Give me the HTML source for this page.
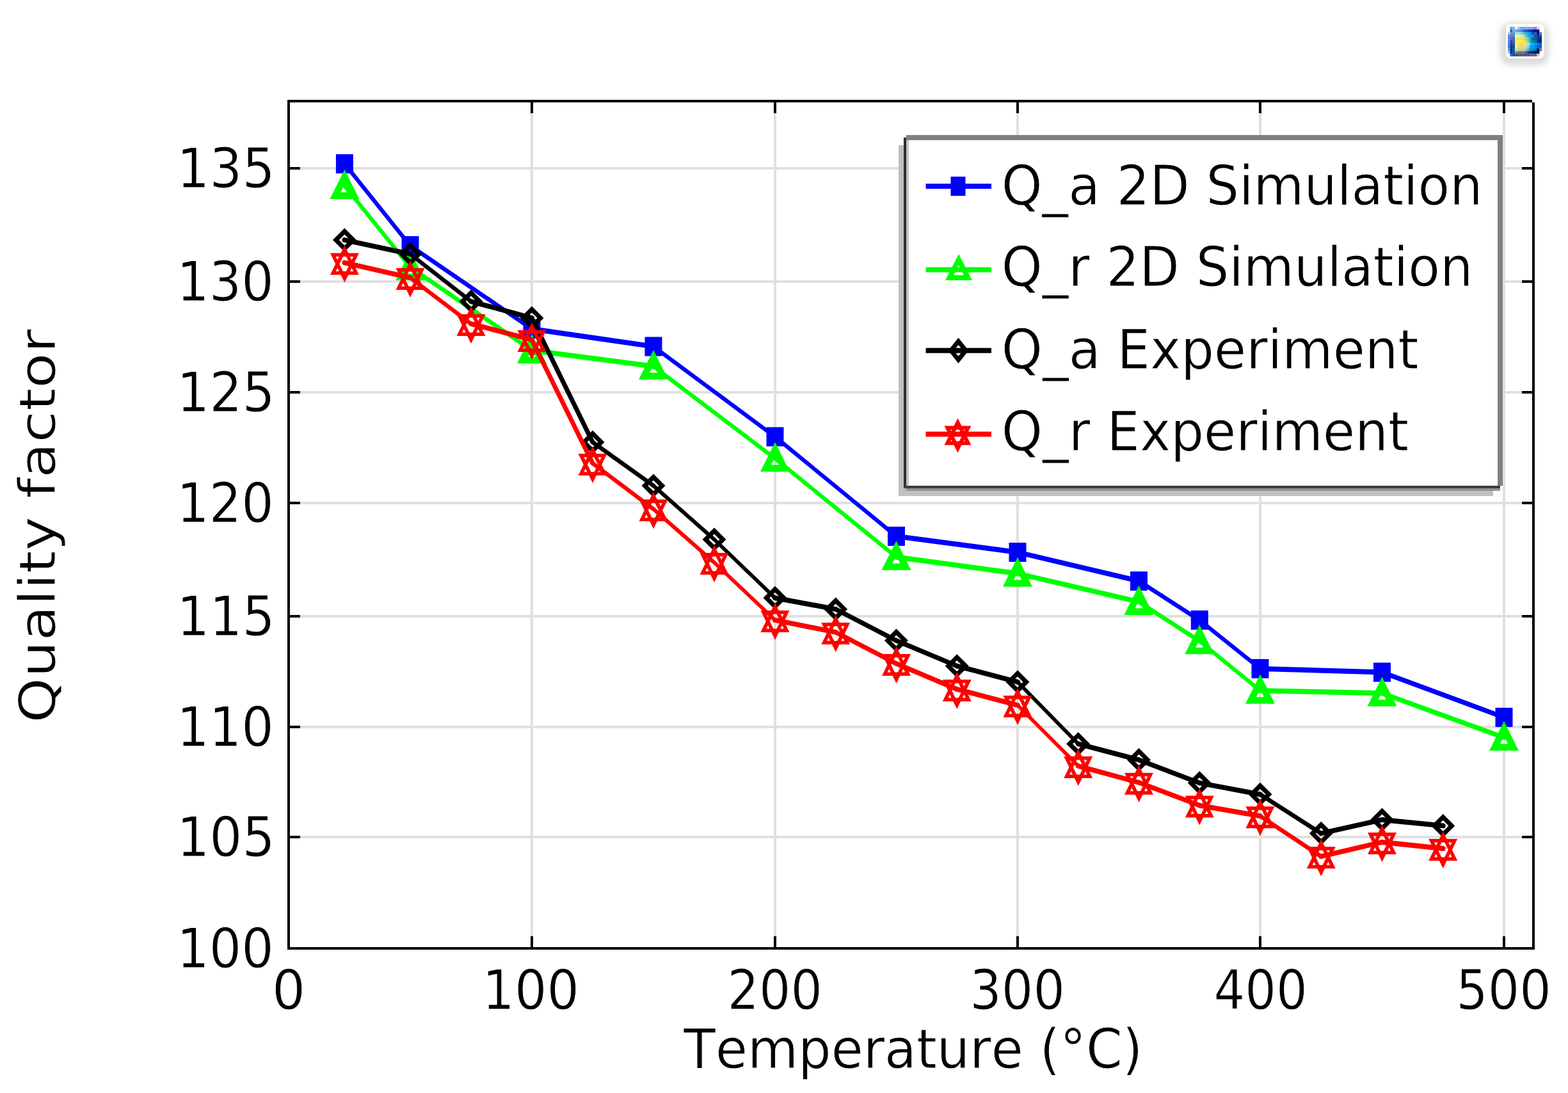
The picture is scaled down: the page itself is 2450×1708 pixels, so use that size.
<!DOCTYPE html>
<html><head><meta charset="utf-8"><title>Quality factor vs Temperature</title>
<style>html,body{margin:0;padding:0;background:#fff;}svg{display:block;}text{font-kerning:none;}</style></head>
<body>
<svg width="2450" height="1708" viewBox="0 0 2450 1708">
<rect x="0" y="0" width="2450" height="1708" fill="#ffffff"/>
<path d="M831,160V1480 M1211,160V1480 M1590,160V1480 M1969,160V1480 M2350,160V1480 M453,263H2394 M453,440H2394 M453,613H2394 M453,786H2394 M453,963H2394 M453,1136H2394 M453,1308H2394" stroke="#e0e0e0" stroke-width="4" fill="none"/>
<path d="M451,1480V1463 M451,160V177 M831,1480V1463 M831,160V177 M1211,1480V1463 M1211,160V177 M1590,1480V1463 M1590,160V177 M1969,1480V1463 M1969,160V177 M2350,1480V1463 M2350,160V177 M453,263H469 M2394,263H2378 M453,440H469 M2394,440H2378 M453,613H469 M2394,613H2378 M453,786H469 M2394,786H2378 M453,963H469 M2394,963H2378 M453,1136H469 M2394,1136H2378 M453,1308H469 M2394,1308H2378 M453,1482H469 M2394,1482H2378" stroke="#000" stroke-width="4" fill="none"/>
<path d="M449,158H2394 M2396,160V1484 M2398,1482H451 M451,1484V156" stroke="#000" stroke-width="4" fill="none"/>
<g font-family="DejaVu Sans, Liberation Sans, sans-serif" fill="#000" stroke="#fff" stroke-width="0.9">
<text transform="translate(276.16,293.10) scale(0.9454,1)" font-size="85.0">135</text>
<text transform="translate(276.27,470.10) scale(0.9340,1)" font-size="85.0">130</text>
<text transform="translate(276.16,643.10) scale(0.9454,1)" font-size="85.0">125</text>
<text transform="translate(276.27,816.10) scale(0.9340,1)" font-size="85.0">120</text>
<text transform="translate(276.16,993.10) scale(0.9454,1)" font-size="85.0">115</text>
<text transform="translate(276.27,1166.10) scale(0.9340,1)" font-size="85.0">110</text>
<text transform="translate(276.16,1338.10) scale(0.9454,1)" font-size="85.0">105</text>
<text transform="translate(276.27,1512.10) scale(0.9340,1)" font-size="85.0">100</text>
<text transform="translate(424.88,1576.50) scale(0.9664,1)" font-size="85.0">0</text>
<text transform="translate(753.52,1576.50) scale(0.9340,1)" font-size="85.0">100</text>
<text transform="translate(1136.58,1576.50) scale(0.9144,1)" font-size="85.0">200</text>
<text transform="translate(1515.33,1576.50) scale(0.9160,1)" font-size="85.0">300</text>
<text transform="translate(1896.49,1576.50) scale(0.9022,1)" font-size="85.0">400</text>
<text transform="translate(2275.25,1576.50) scale(0.9165,1)" font-size="85.0">500</text>
<text transform="translate(1068.24,1668.90) scale(0.9564,1)" font-size="85.0">Temperature (°C)</text>
<text transform="translate(86.4,1129.65) rotate(-90) scale(1.1566,1)" font-size="78.0">Quality factor</text>
</g>
<g stroke="#0000ff" fill="none" stroke-linecap="round"><path d="M538.4,256.0L641.0,384.0" stroke-width="6.24"/><path d="M641.0,384.0L831.0,514.0" stroke-width="6.60"/><path d="M831.0,514.0L1021.0,541.5" stroke-width="7.92"/><path d="M1021.0,541.5L1211.0,682.5" stroke-width="6.42"/><path d="M1211.0,682.5L1400.5,838.0" stroke-width="6.18"/><path d="M1400.5,838.0L1590.0,863.0" stroke-width="7.93"/><path d="M1590.0,863.0L1779.5,908.0" stroke-width="7.78"/><path d="M1779.5,908.0L1874.2,969.0" stroke-width="6.73"/><path d="M1874.2,969.0L1969.0,1044.9" stroke-width="6.24"/><path d="M1969.0,1044.9L2159.5,1050.5" stroke-width="8.00"/><path d="M2159.5,1050.5L2350.0,1121.0" stroke-width="7.50"/></g>
<g fill="#0000ff" fill-rule="evenodd"><path d="M524.9,241.0h27v30h-27Z"/><path d="M627.5,369.0h27v30h-27Z"/><path d="M817.5,499.0h27v30h-27Z"/><path d="M1007.5,526.5h27v30h-27Z"/><path d="M1197.5,667.5h27v30h-27Z"/><path d="M1387.0,823.0h27v30h-27Z"/><path d="M1576.5,848.0h27v30h-27Z"/><path d="M1766.0,893.0h27v30h-27Z"/><path d="M1860.8,954.0h27v30h-27Z"/><path d="M1955.5,1029.9h27v30h-27Z"/><path d="M2146.0,1035.5h27v30h-27Z"/><path d="M2336.5,1106.0h27v30h-27Z"/></g>
<g stroke="#00ff00" fill="none" stroke-linecap="round"><path d="M538.4,290.5L641.0,417.5" stroke-width="6.22"/><path d="M641.0,417.5L831.0,547.5" stroke-width="6.60"/><path d="M831.0,547.5L1021.0,572.5" stroke-width="7.93"/><path d="M1021.0,572.5L1211.0,716.5" stroke-width="6.38"/><path d="M1211.0,716.5L1400.5,870.5" stroke-width="6.21"/><path d="M1400.5,870.5L1590.0,896.2" stroke-width="7.93"/><path d="M1590.0,896.2L1779.5,940.5" stroke-width="7.79"/><path d="M1779.5,940.5L1874.2,1001.8" stroke-width="6.72"/><path d="M1874.2,1001.8L1969.0,1079.2" stroke-width="6.20"/><path d="M1969.0,1079.2L2159.5,1083.2" stroke-width="8.00"/><path d="M2159.5,1083.2L2350.0,1152.5" stroke-width="7.52"/></g>
<g fill="#00ff00" fill-rule="evenodd"><path d="M538.4,265.0 L561.4,311.0 L515.4,311.0ZM538.4,288.5 L544.4,300.5 L532.4,300.5Z"/><path d="M641.0,392.0 L664.0,438.0 L618.0,438.0ZM641.0,415.5 L647.0,427.5 L635.0,427.5Z"/><path d="M831.0,522.0 L854.0,568.0 L808.0,568.0ZM831.0,545.5 L837.0,557.5 L825.0,557.5Z"/><path d="M1021.0,547.0 L1044.0,593.0 L998.0,593.0ZM1021.0,570.5 L1027.0,582.5 L1015.0,582.5Z"/><path d="M1211.0,691.0 L1234.0,737.0 L1188.0,737.0ZM1211.0,714.5 L1217.0,726.5 L1205.0,726.5Z"/><path d="M1400.5,845.0 L1423.5,891.0 L1377.5,891.0ZM1400.5,868.5 L1406.5,880.5 L1394.5,880.5Z"/><path d="M1590.0,870.7 L1613.0,916.7 L1567.0,916.7ZM1590.0,894.2 L1596.0,906.2 L1584.0,906.2Z"/><path d="M1779.5,915.0 L1802.5,961.0 L1756.5,961.0ZM1779.5,938.5 L1785.5,950.5 L1773.5,950.5Z"/><path d="M1874.2,976.3 L1897.2,1022.3 L1851.2,1022.3ZM1874.2,999.8 L1880.3,1011.8 L1868.2,1011.8Z"/><path d="M1969.0,1053.7 L1992.0,1099.7 L1946.0,1099.7ZM1969.0,1077.2 L1975.0,1089.2 L1963.0,1089.2Z"/><path d="M2159.5,1057.7 L2182.5,1103.7 L2136.5,1103.7ZM2159.5,1081.2 L2165.5,1093.2 L2153.5,1093.2Z"/><path d="M2350.0,1127.0 L2373.0,1173.0 L2327.0,1173.0ZM2350.0,1150.5 L2356.0,1162.5 L2344.0,1162.5Z"/></g>
<g stroke="#000000" fill="none" stroke-linecap="round"><path d="M538.4,375.0L641.0,397.0" stroke-width="7.82"/><path d="M641.0,397.0L736.0,471.0" stroke-width="6.31"/><path d="M736.0,471.0L831.0,497.0" stroke-width="7.72"/><path d="M831.0,497.0L926.0,691.0" stroke-width="7.18"/><path d="M926.0,691.0L1021.0,759.0" stroke-width="6.51"/><path d="M1021.0,759.0L1116.0,843.0" stroke-width="5.99"/><path d="M1116.0,843.0L1211.0,934.3" stroke-width="5.77"/><path d="M1211.0,934.3L1305.8,952.0" stroke-width="7.86"/><path d="M1305.8,952.0L1400.5,1001.0" stroke-width="7.11"/><path d="M1400.5,1001.0L1495.2,1040.7" stroke-width="7.38"/><path d="M1495.2,1040.7L1590.0,1065.7" stroke-width="7.74"/><path d="M1590.0,1065.7L1684.8,1162.4" stroke-width="5.71"/><path d="M1684.8,1162.4L1779.5,1187.4" stroke-width="7.74"/><path d="M1779.5,1187.4L1874.2,1223.5" stroke-width="7.48"/><path d="M1874.2,1223.5L1969.0,1241.3" stroke-width="7.86"/><path d="M1969.0,1241.3L2064.2,1302.3" stroke-width="6.74"/><path d="M2064.2,1302.3L2159.5,1281.0" stroke-width="7.81"/><path d="M2159.5,1281.0L2254.8,1290.4" stroke-width="7.96"/></g>
<g fill="#000000" fill-rule="evenodd"><path d="M538.4,356.5 L556.9,375.0 L538.4,393.5 L519.9,375.0ZM538.4,366.4 L547.0,375.0 L538.4,383.6 L529.8,375.0Z"/><path d="M641.0,378.5 L659.5,397.0 L641.0,415.5 L622.5,397.0ZM641.0,388.4 L649.6,397.0 L641.0,405.6 L632.4,397.0Z"/><path d="M736.0,452.5 L754.5,471.0 L736.0,489.5 L717.5,471.0ZM736.0,462.4 L744.6,471.0 L736.0,479.6 L727.4,471.0Z"/><path d="M831.0,478.5 L849.5,497.0 L831.0,515.5 L812.5,497.0ZM831.0,488.4 L839.6,497.0 L831.0,505.6 L822.4,497.0Z"/><path d="M926.0,672.5 L944.5,691.0 L926.0,709.5 L907.5,691.0ZM926.0,682.4 L934.6,691.0 L926.0,699.6 L917.4,691.0Z"/><path d="M1021.0,740.5 L1039.5,759.0 L1021.0,777.5 L1002.5,759.0ZM1021.0,750.4 L1029.6,759.0 L1021.0,767.6 L1012.4,759.0Z"/><path d="M1116.0,824.5 L1134.5,843.0 L1116.0,861.5 L1097.5,843.0ZM1116.0,834.4 L1124.6,843.0 L1116.0,851.6 L1107.4,843.0Z"/><path d="M1211.0,915.8 L1229.5,934.3 L1211.0,952.8 L1192.5,934.3ZM1211.0,925.7 L1219.6,934.3 L1211.0,942.9 L1202.4,934.3Z"/><path d="M1305.8,933.5 L1324.2,952.0 L1305.8,970.5 L1287.2,952.0ZM1305.8,943.4 L1314.4,952.0 L1305.8,960.6 L1297.1,952.0Z"/><path d="M1400.5,982.5 L1419.0,1001.0 L1400.5,1019.5 L1382.0,1001.0ZM1400.5,992.4 L1409.1,1001.0 L1400.5,1009.6 L1391.9,1001.0Z"/><path d="M1495.2,1022.2 L1513.8,1040.7 L1495.2,1059.2 L1476.8,1040.7ZM1495.2,1032.1 L1503.9,1040.7 L1495.2,1049.3 L1486.6,1040.7Z"/><path d="M1590.0,1047.2 L1608.5,1065.7 L1590.0,1084.2 L1571.5,1065.7ZM1590.0,1057.1 L1598.6,1065.7 L1590.0,1074.3 L1581.4,1065.7Z"/><path d="M1684.8,1143.9 L1703.2,1162.4 L1684.8,1180.9 L1666.2,1162.4ZM1684.8,1153.8 L1693.4,1162.4 L1684.8,1171.0 L1676.1,1162.4Z"/><path d="M1779.5,1168.9 L1798.0,1187.4 L1779.5,1205.9 L1761.0,1187.4ZM1779.5,1178.8 L1788.1,1187.4 L1779.5,1196.0 L1770.9,1187.4Z"/><path d="M1874.2,1205.0 L1892.8,1223.5 L1874.2,1242.0 L1855.8,1223.5ZM1874.2,1214.9 L1882.9,1223.5 L1874.2,1232.1 L1865.6,1223.5Z"/><path d="M1969.0,1222.8 L1987.5,1241.3 L1969.0,1259.8 L1950.5,1241.3ZM1969.0,1232.7 L1977.6,1241.3 L1969.0,1249.9 L1960.4,1241.3Z"/><path d="M2064.2,1283.8 L2082.8,1302.3 L2064.2,1320.8 L2045.8,1302.3ZM2064.2,1293.7 L2072.9,1302.3 L2064.2,1310.9 L2055.6,1302.3Z"/><path d="M2159.5,1262.5 L2178.0,1281.0 L2159.5,1299.5 L2141.0,1281.0ZM2159.5,1272.4 L2168.1,1281.0 L2159.5,1289.6 L2150.9,1281.0Z"/><path d="M2254.8,1271.9 L2273.2,1290.4 L2254.8,1308.9 L2236.2,1290.4ZM2254.8,1281.8 L2263.4,1290.4 L2254.8,1299.0 L2246.1,1290.4Z"/></g>
<g stroke="#ff0000" fill="none" stroke-linecap="round"><path d="M538.4,410.5L641.0,434.0" stroke-width="7.80"/><path d="M641.0,434.0L736.0,506.0" stroke-width="6.38"/><path d="M736.0,506.0L831.0,531.0" stroke-width="7.74"/><path d="M831.0,531.0L926.0,724.0" stroke-width="7.18"/><path d="M926.0,724.0L1021.0,795.4" stroke-width="6.40"/><path d="M1021.0,795.4L1116.0,879.0" stroke-width="6.01"/><path d="M1116.0,879.0L1211.0,969.0" stroke-width="5.81"/><path d="M1211.0,969.0L1305.8,988.0" stroke-width="7.84"/><path d="M1305.8,988.0L1400.5,1037.0" stroke-width="7.11"/><path d="M1400.5,1037.0L1495.2,1077.0" stroke-width="7.37"/><path d="M1495.2,1077.0L1590.0,1102.0" stroke-width="7.74"/><path d="M1590.0,1102.0L1684.8,1197.0" stroke-width="5.66"/><path d="M1684.8,1197.0L1779.5,1222.8" stroke-width="7.72"/><path d="M1779.5,1222.8L1874.2,1258.6" stroke-width="7.48"/><path d="M1874.2,1258.6L1969.0,1275.2" stroke-width="7.88"/><path d="M1969.0,1275.2L2064.2,1338.3" stroke-width="6.67"/><path d="M2064.2,1338.3L2159.5,1316.0" stroke-width="7.79"/><path d="M2159.5,1316.0L2254.8,1326.0" stroke-width="7.96"/></g>
<g fill="#ff0000" fill-rule="evenodd"><path d="M538.4,383.5 L560.9,429.5 L515.9,429.5ZM538.4,396.0 L552.1,424.0 L524.7,424.0Z"/><path d="M538.4,441.5 L515.9,395.5 L560.9,395.5ZM538.4,429.0 L524.7,401.0 L552.1,401.0Z"/><path d="M641.0,407.0 L663.5,453.0 L618.5,453.0ZM641.0,419.5 L654.7,447.5 L627.3,447.5Z"/><path d="M641.0,465.0 L618.5,419.0 L663.5,419.0ZM641.0,452.5 L627.3,424.5 L654.7,424.5Z"/><path d="M736.0,479.0 L758.5,525.0 L713.5,525.0ZM736.0,491.5 L749.7,519.5 L722.3,519.5Z"/><path d="M736.0,537.0 L713.5,491.0 L758.5,491.0ZM736.0,524.5 L722.3,496.5 L749.7,496.5Z"/><path d="M831.0,504.0 L853.5,550.0 L808.5,550.0ZM831.0,516.5 L844.7,544.5 L817.3,544.5Z"/><path d="M831.0,562.0 L808.5,516.0 L853.5,516.0ZM831.0,549.5 L817.3,521.5 L844.7,521.5Z"/><path d="M926.0,697.0 L948.5,743.0 L903.5,743.0ZM926.0,709.5 L939.7,737.5 L912.3,737.5Z"/><path d="M926.0,755.0 L903.5,709.0 L948.5,709.0ZM926.0,742.5 L912.3,714.5 L939.7,714.5Z"/><path d="M1021.0,768.4 L1043.5,814.4 L998.5,814.4ZM1021.0,780.9 L1034.7,808.9 L1007.3,808.9Z"/><path d="M1021.0,826.4 L998.5,780.4 L1043.5,780.4ZM1021.0,813.9 L1007.3,785.9 L1034.7,785.9Z"/><path d="M1116.0,852.0 L1138.5,898.0 L1093.5,898.0ZM1116.0,864.5 L1129.7,892.5 L1102.3,892.5Z"/><path d="M1116.0,910.0 L1093.5,864.0 L1138.5,864.0ZM1116.0,897.5 L1102.3,869.5 L1129.7,869.5Z"/><path d="M1211.0,942.0 L1233.5,988.0 L1188.5,988.0ZM1211.0,954.5 L1224.7,982.5 L1197.3,982.5Z"/><path d="M1211.0,1000.0 L1188.5,954.0 L1233.5,954.0ZM1211.0,987.5 L1197.3,959.5 L1224.7,959.5Z"/><path d="M1305.8,961.0 L1328.2,1007.0 L1283.2,1007.0ZM1305.8,973.5 L1319.4,1001.5 L1292.1,1001.5Z"/><path d="M1305.8,1019.0 L1283.2,973.0 L1328.2,973.0ZM1305.8,1006.5 L1292.1,978.5 L1319.4,978.5Z"/><path d="M1400.5,1010.0 L1423.0,1056.0 L1378.0,1056.0ZM1400.5,1022.5 L1414.2,1050.5 L1386.8,1050.5Z"/><path d="M1400.5,1068.0 L1378.0,1022.0 L1423.0,1022.0ZM1400.5,1055.5 L1386.8,1027.5 L1414.2,1027.5Z"/><path d="M1495.2,1050.0 L1517.8,1096.0 L1472.8,1096.0ZM1495.2,1062.5 L1508.9,1090.5 L1481.6,1090.5Z"/><path d="M1495.2,1108.0 L1472.8,1062.0 L1517.8,1062.0ZM1495.2,1095.5 L1481.6,1067.5 L1508.9,1067.5Z"/><path d="M1590.0,1075.0 L1612.5,1121.0 L1567.5,1121.0ZM1590.0,1087.5 L1603.7,1115.5 L1576.3,1115.5Z"/><path d="M1590.0,1133.0 L1567.5,1087.0 L1612.5,1087.0ZM1590.0,1120.5 L1576.3,1092.5 L1603.7,1092.5Z"/><path d="M1684.8,1170.0 L1707.2,1216.0 L1662.2,1216.0ZM1684.8,1182.5 L1698.4,1210.5 L1671.1,1210.5Z"/><path d="M1684.8,1228.0 L1662.2,1182.0 L1707.2,1182.0ZM1684.8,1215.5 L1671.1,1187.5 L1698.4,1187.5Z"/><path d="M1779.5,1195.8 L1802.0,1241.8 L1757.0,1241.8ZM1779.5,1208.3 L1793.2,1236.3 L1765.8,1236.3Z"/><path d="M1779.5,1253.8 L1757.0,1207.8 L1802.0,1207.8ZM1779.5,1241.3 L1765.8,1213.3 L1793.2,1213.3Z"/><path d="M1874.2,1231.6 L1896.8,1277.6 L1851.8,1277.6ZM1874.2,1244.1 L1887.9,1272.1 L1860.6,1272.1Z"/><path d="M1874.2,1289.6 L1851.8,1243.6 L1896.8,1243.6ZM1874.2,1277.1 L1860.6,1249.1 L1887.9,1249.1Z"/><path d="M1969.0,1248.2 L1991.5,1294.2 L1946.5,1294.2ZM1969.0,1260.7 L1982.7,1288.7 L1955.3,1288.7Z"/><path d="M1969.0,1306.2 L1946.5,1260.2 L1991.5,1260.2ZM1969.0,1293.7 L1955.3,1265.7 L1982.7,1265.7Z"/><path d="M2064.2,1311.3 L2086.8,1357.3 L2041.8,1357.3ZM2064.2,1323.8 L2077.9,1351.8 L2050.6,1351.8Z"/><path d="M2064.2,1369.3 L2041.8,1323.3 L2086.8,1323.3ZM2064.2,1356.8 L2050.6,1328.8 L2077.9,1328.8Z"/><path d="M2159.5,1289.0 L2182.0,1335.0 L2137.0,1335.0ZM2159.5,1301.5 L2173.2,1329.5 L2145.8,1329.5Z"/><path d="M2159.5,1347.0 L2137.0,1301.0 L2182.0,1301.0ZM2159.5,1334.5 L2145.8,1306.5 L2173.2,1306.5Z"/><path d="M2254.8,1299.0 L2277.2,1345.0 L2232.2,1345.0ZM2254.8,1311.5 L2268.4,1339.5 L2241.1,1339.5Z"/><path d="M2254.8,1357.0 L2232.2,1311.0 L2277.2,1311.0ZM2254.8,1344.5 L2241.1,1316.5 L2268.4,1316.5Z"/></g>
<rect x="1404" y="227" width="929" height="548" fill="#c0c0c0"/>
<rect x="1416" y="763" width="928" height="4" fill="#909090"/>
<rect x="1412" y="211" width="936" height="552" fill="#ffffff"/>
<rect x="1416" y="211" width="932" height="8" fill="#808080"/>
<rect x="2340" y="211" width="8" height="548" fill="#808080"/>
<rect x="1412" y="215" width="4" height="548" fill="#2e2e2e"/>
<rect x="1416" y="219" width="4" height="540" fill="#c4c4c4"/>
<rect x="1412" y="759" width="932" height="4" fill="#3c3c3c"/>
<path d="M1446.6,291H1549" stroke="#0000ff" stroke-width="8"/>
<path d="M1485.5,276.0h23v30h-23Z" fill="#0000ff"/>
<g font-family="DejaVu Sans, Liberation Sans, sans-serif" fill="#000" stroke="#fff" stroke-width="0.9"><text transform="translate(1564.76,320.00) scale(0.9543,1)" font-size="85.0">Q_a 2D Simulation</text></g>
<path d="M1446.6,421.5H1549" stroke="#00ff00" stroke-width="8"/>
<path d="M1498.0,397.0 L1519.0,438.0 L1477.0,438.0ZM1498.0,414.5 L1505.9,430.0 L1490.1,430.0Z" fill="#00ff00" fill-rule="evenodd"/>
<g font-family="DejaVu Sans, Liberation Sans, sans-serif" fill="#000" stroke="#fff" stroke-width="0.9"><text transform="translate(1564.75,446.50) scale(0.9560,1)" font-size="85.0">Q_r 2D Simulation</text></g>
<path d="M1446.6,547.8H1549" stroke="#000000" stroke-width="8"/>
<path d="M1497.5,527.8 L1513.5,547.8 L1497.5,567.8 L1481.5,547.8ZM1497.5,539.0 L1504.5,547.8 L1497.5,556.6 L1490.5,547.8Z" fill="#000000" fill-rule="evenodd"/>
<g font-family="DejaVu Sans, Liberation Sans, sans-serif" fill="#000" stroke="#fff" stroke-width="0.9"><text transform="translate(1564.73,576.40) scale(0.9592,1)" font-size="85.0">Q_a Experiment</text></g>
<path d="M1446.6,678.6H1549" stroke="#ff0000" stroke-width="8"/>
<g fill="#ff0000" fill-rule="evenodd"><path d="M1496.5,653.6 L1517.5,695.6 L1475.5,695.6ZM1496.5,667.0 L1507.8,689.6 L1485.2,689.6Z"/><path d="M1496.5,707.6 L1475.5,665.6 L1517.5,665.6ZM1496.5,694.2 L1485.2,671.6 L1507.8,671.6Z"/></g>
<g font-family="DejaVu Sans, Liberation Sans, sans-serif" fill="#000" stroke="#fff" stroke-width="0.9"><text transform="translate(1564.73,703.50) scale(0.9604,1)" font-size="85.0">Q_r Experiment</text></g>
<defs><filter id="blur" x="-50%" y="-50%" width="200%" height="200%"><feGaussianBlur stdDeviation="5"/></filter></defs>
<rect x="2344" y="36" width="76" height="66" rx="16" fill="#dcdcdc" filter="url(#blur)"/>
<rect x="2353" y="37.5" width="60" height="54" rx="8" fill="#fffcf2"/>
<rect x="2359.4" y="41.9" width="4.0" height="4.5" fill="#6a9ad0"/><rect x="2363.1" y="41.9" width="4.3" height="4.5" fill="#8ab0f8"/><rect x="2367.1" y="41.9" width="4.2" height="4.5" fill="#e8f0ff"/><rect x="2371.0" y="41.9" width="4.2" height="4.5" fill="#a8c8f8"/><rect x="2374.9" y="41.9" width="4.3" height="4.5" fill="#70b0f0"/><rect x="2378.9" y="41.9" width="4.0" height="4.5" fill="#78a8f0"/><rect x="2382.6" y="41.9" width="4.1" height="4.5" fill="#80a8f0"/><rect x="2386.4" y="41.9" width="4.0" height="4.5" fill="#80a8e8"/><rect x="2390.1" y="41.9" width="4.1" height="4.5" fill="#88a0e8"/><rect x="2393.9" y="41.9" width="4.2" height="4.5" fill="#8098f0"/><rect x="2397.8" y="41.9" width="3.8" height="4.5" fill="#7088f0"/><rect x="2401.3" y="41.9" width="4.1" height="4.5" fill="#d0d8f0"/><rect x="2359.4" y="46.1" width="4.0" height="4.2" fill="#1070c0"/><rect x="2363.1" y="46.1" width="4.3" height="4.2" fill="#70b0e0"/><rect x="2367.1" y="46.1" width="4.2" height="4.2" fill="#80a0e0"/><rect x="2371.0" y="46.1" width="4.2" height="4.2" fill="#6098d8"/><rect x="2374.9" y="46.1" width="4.3" height="4.2" fill="#5090e0"/><rect x="2378.9" y="46.1" width="4.0" height="4.2" fill="#4060d0"/><rect x="2382.6" y="46.1" width="4.1" height="4.2" fill="#2050c8"/><rect x="2386.4" y="46.1" width="4.0" height="4.2" fill="#1040c8"/><rect x="2390.1" y="46.1" width="4.1" height="4.2" fill="#1030b0"/><rect x="2393.9" y="46.1" width="4.2" height="4.2" fill="#0820a8"/><rect x="2397.8" y="46.1" width="3.8" height="4.2" fill="#0010a0"/><rect x="2401.3" y="46.1" width="4.1" height="4.2" fill="#000a80"/><rect x="2356.0" y="50.0" width="3.7" height="4.2" fill="#b0d0f0"/><rect x="2359.4" y="50.0" width="4.0" height="4.2" fill="#9080c8"/><rect x="2363.1" y="50.0" width="4.3" height="4.2" fill="#50a0d0"/><rect x="2367.1" y="50.0" width="4.2" height="4.2" fill="#a0e0e0"/><rect x="2371.0" y="50.0" width="4.2" height="4.2" fill="#a0e0d8"/><rect x="2374.9" y="50.0" width="4.3" height="4.2" fill="#90d0e0"/><rect x="2378.9" y="50.0" width="4.0" height="4.2" fill="#60c8d0"/><rect x="2382.6" y="50.0" width="4.1" height="4.2" fill="#20b0e0"/><rect x="2386.4" y="50.0" width="4.0" height="4.2" fill="#4090d8"/><rect x="2390.1" y="50.0" width="4.1" height="4.2" fill="#0080d0"/><rect x="2393.9" y="50.0" width="4.2" height="4.2" fill="#0050c8"/><rect x="2397.8" y="50.0" width="3.8" height="4.2" fill="#3060a0"/><rect x="2401.3" y="50.0" width="4.1" height="4.2" fill="#000880"/><rect x="2405.1" y="50.0" width="4.0" height="4.2" fill="#6080c0"/><rect x="2356.0" y="53.9" width="3.7" height="4.5" fill="#6090e0"/><rect x="2359.4" y="53.9" width="4.0" height="4.5" fill="#8070d0"/><rect x="2363.1" y="53.9" width="4.3" height="4.5" fill="#5088c0"/><rect x="2367.1" y="53.9" width="4.2" height="4.5" fill="#e0ffd0"/><rect x="2371.0" y="53.9" width="4.2" height="4.5" fill="#e0f8b0"/><rect x="2374.9" y="53.9" width="4.3" height="4.5" fill="#d8f0a0"/><rect x="2378.9" y="53.9" width="4.0" height="4.5" fill="#b0e8b0"/><rect x="2382.6" y="53.9" width="4.1" height="4.5" fill="#50d0d0"/><rect x="2386.4" y="53.9" width="4.0" height="4.5" fill="#00b0f8"/><rect x="2390.1" y="53.9" width="4.1" height="4.5" fill="#00a0e8"/><rect x="2393.9" y="53.9" width="4.2" height="4.5" fill="#3080c0"/><rect x="2397.8" y="53.9" width="3.8" height="4.5" fill="#0050c0"/><rect x="2401.3" y="53.9" width="4.1" height="4.5" fill="#003090"/><rect x="2405.1" y="53.9" width="4.0" height="4.5" fill="#205090"/><rect x="2356.0" y="58.1" width="3.7" height="4.9" fill="#5090f0"/><rect x="2359.4" y="58.1" width="4.0" height="4.9" fill="#6060c8"/><rect x="2363.1" y="58.1" width="4.3" height="4.9" fill="#4070a0"/><rect x="2367.1" y="58.1" width="4.2" height="4.9" fill="#e0f090"/><rect x="2371.0" y="58.1" width="4.2" height="4.9" fill="#f8e070"/><rect x="2374.9" y="58.1" width="4.3" height="4.9" fill="#f8e060"/><rect x="2378.9" y="58.1" width="4.0" height="4.9" fill="#e0e070"/><rect x="2382.6" y="58.1" width="4.1" height="4.9" fill="#a0d0a0"/><rect x="2386.4" y="58.1" width="4.0" height="4.9" fill="#60c8a0"/><rect x="2390.1" y="58.1" width="4.1" height="4.9" fill="#00a0c0"/><rect x="2393.9" y="58.1" width="4.2" height="4.9" fill="#0060c0"/><rect x="2397.8" y="58.1" width="3.8" height="4.9" fill="#0060a8"/><rect x="2401.3" y="58.1" width="4.1" height="4.9" fill="#003090"/><rect x="2405.1" y="58.1" width="4.0" height="4.9" fill="#002870"/><rect x="2356.0" y="62.7" width="3.7" height="4.5" fill="#4090f0"/><rect x="2359.4" y="62.7" width="4.0" height="4.5" fill="#4040b0"/><rect x="2363.1" y="62.7" width="4.3" height="4.5" fill="#406898"/><rect x="2367.1" y="62.7" width="4.2" height="4.5" fill="#f0f060"/><rect x="2371.0" y="62.7" width="4.2" height="4.5" fill="#fff050"/><rect x="2374.9" y="62.7" width="4.3" height="4.5" fill="#fff040"/><rect x="2378.9" y="62.7" width="4.0" height="4.5" fill="#f0e840"/><rect x="2382.6" y="62.7" width="4.1" height="4.5" fill="#d0e060"/><rect x="2386.4" y="62.7" width="4.0" height="4.5" fill="#80d070"/><rect x="2390.1" y="62.7" width="4.1" height="4.5" fill="#00b0a0"/><rect x="2393.9" y="62.7" width="4.2" height="4.5" fill="#108090"/><rect x="2397.8" y="62.7" width="3.8" height="4.5" fill="#207080"/><rect x="2401.3" y="62.7" width="4.1" height="4.5" fill="#002890"/><rect x="2405.1" y="62.7" width="4.0" height="4.5" fill="#002070"/><rect x="2356.0" y="66.9" width="3.7" height="4.4" fill="#3090f0"/><rect x="2359.4" y="66.9" width="4.0" height="4.4" fill="#3030a0"/><rect x="2363.1" y="66.9" width="4.3" height="4.4" fill="#305880"/><rect x="2367.1" y="66.9" width="4.2" height="4.4" fill="#f0f880"/><rect x="2371.0" y="66.9" width="4.2" height="4.4" fill="#ffe840"/><rect x="2374.9" y="66.9" width="4.3" height="4.4" fill="#f8e050"/><rect x="2378.9" y="66.9" width="4.0" height="4.4" fill="#f0e080"/><rect x="2382.6" y="66.9" width="4.1" height="4.4" fill="#d8e0c0"/><rect x="2386.4" y="66.9" width="4.0" height="4.4" fill="#a0e0f0"/><rect x="2390.1" y="66.9" width="4.1" height="4.4" fill="#00d0ff"/><rect x="2393.9" y="66.9" width="4.2" height="4.4" fill="#00b0ff"/><rect x="2397.8" y="66.9" width="3.8" height="4.4" fill="#0090f8"/><rect x="2401.3" y="66.9" width="4.1" height="4.4" fill="#0070f0"/><rect x="2405.1" y="66.9" width="4.0" height="4.4" fill="#0060e0"/><rect x="2356.0" y="71.0" width="3.7" height="4.6" fill="#3080e0"/><rect x="2359.4" y="71.0" width="4.0" height="4.6" fill="#2030a0"/><rect x="2363.1" y="71.0" width="4.3" height="4.6" fill="#005090"/><rect x="2367.1" y="71.0" width="4.2" height="4.6" fill="#f0f0b0"/><rect x="2371.0" y="71.0" width="4.2" height="4.6" fill="#f0d870"/><rect x="2374.9" y="71.0" width="4.3" height="4.6" fill="#f0d870"/><rect x="2378.9" y="71.0" width="4.0" height="4.6" fill="#e8d890"/><rect x="2382.6" y="71.0" width="4.1" height="4.6" fill="#c8d0e0"/><rect x="2386.4" y="71.0" width="4.0" height="4.6" fill="#80c0f0"/><rect x="2390.1" y="71.0" width="4.1" height="4.6" fill="#00a8f8"/><rect x="2393.9" y="71.0" width="4.2" height="4.6" fill="#0098f0"/><rect x="2397.8" y="71.0" width="3.8" height="4.6" fill="#0080e0"/><rect x="2401.3" y="71.0" width="4.1" height="4.6" fill="#0060c0"/><rect x="2405.1" y="71.0" width="4.0" height="4.6" fill="#0060c0"/><rect x="2356.0" y="75.3" width="3.7" height="4.8" fill="#50a0e0"/><rect x="2359.4" y="75.3" width="4.0" height="4.8" fill="#1020a0"/><rect x="2363.1" y="75.3" width="4.3" height="4.8" fill="#0060a0"/><rect x="2367.1" y="75.3" width="4.2" height="4.8" fill="#d0e0b0"/><rect x="2371.0" y="75.3" width="4.2" height="4.8" fill="#d8d090"/><rect x="2374.9" y="75.3" width="4.3" height="4.8" fill="#d8d090"/><rect x="2378.9" y="75.3" width="4.0" height="4.8" fill="#d0d0a0"/><rect x="2382.6" y="75.3" width="4.1" height="4.8" fill="#a8c0c8"/><rect x="2386.4" y="75.3" width="4.0" height="4.8" fill="#50a8d8"/><rect x="2390.1" y="75.3" width="4.1" height="4.8" fill="#0090d0"/><rect x="2393.9" y="75.3" width="4.2" height="4.8" fill="#0088d0"/><rect x="2397.8" y="75.3" width="3.8" height="4.8" fill="#0070c0"/><rect x="2401.3" y="75.3" width="4.1" height="4.8" fill="#001070"/><rect x="2405.1" y="75.3" width="4.0" height="4.8" fill="#5080b0"/><rect x="2356.0" y="79.8" width="3.7" height="4.2" fill="#b0c8e0"/><rect x="2359.4" y="79.8" width="4.0" height="4.2" fill="#0030b0"/><rect x="2363.1" y="79.8" width="4.3" height="4.2" fill="#0060a8"/><rect x="2367.1" y="79.8" width="4.2" height="4.2" fill="#70a0a0"/><rect x="2371.0" y="79.8" width="4.2" height="4.2" fill="#608080"/><rect x="2374.9" y="79.8" width="4.3" height="4.2" fill="#688080"/><rect x="2378.9" y="79.8" width="4.0" height="4.2" fill="#608088"/><rect x="2382.6" y="79.8" width="4.1" height="4.2" fill="#406890"/><rect x="2386.4" y="79.8" width="4.0" height="4.2" fill="#004890"/><rect x="2390.1" y="79.8" width="4.1" height="4.2" fill="#003080"/><rect x="2393.9" y="79.8" width="4.2" height="4.2" fill="#001868"/><rect x="2397.8" y="79.8" width="3.8" height="4.2" fill="#000858"/><rect x="2401.3" y="79.8" width="4.1" height="4.2" fill="#000040"/><rect x="2359.4" y="83.7" width="4.0" height="4.4" fill="#0070c0"/><rect x="2363.1" y="83.7" width="4.3" height="4.4" fill="#205090"/><rect x="2367.1" y="83.7" width="4.2" height="4.4" fill="#404880"/><rect x="2371.0" y="83.7" width="4.2" height="4.4" fill="#505888"/><rect x="2374.9" y="83.7" width="4.3" height="4.4" fill="#585888"/><rect x="2378.9" y="83.7" width="4.0" height="4.4" fill="#585888"/><rect x="2382.6" y="83.7" width="4.1" height="4.4" fill="#505080"/><rect x="2386.4" y="83.7" width="4.0" height="4.4" fill="#505080"/><rect x="2390.1" y="83.7" width="4.1" height="4.4" fill="#606090"/><rect x="2393.9" y="83.7" width="4.2" height="4.4" fill="#686888"/><rect x="2397.8" y="83.7" width="3.8" height="4.4" fill="#606078"/><rect x="2401.3" y="83.7" width="4.1" height="4.4" fill="#c0c0d0"/>
</svg>
</body></html>
